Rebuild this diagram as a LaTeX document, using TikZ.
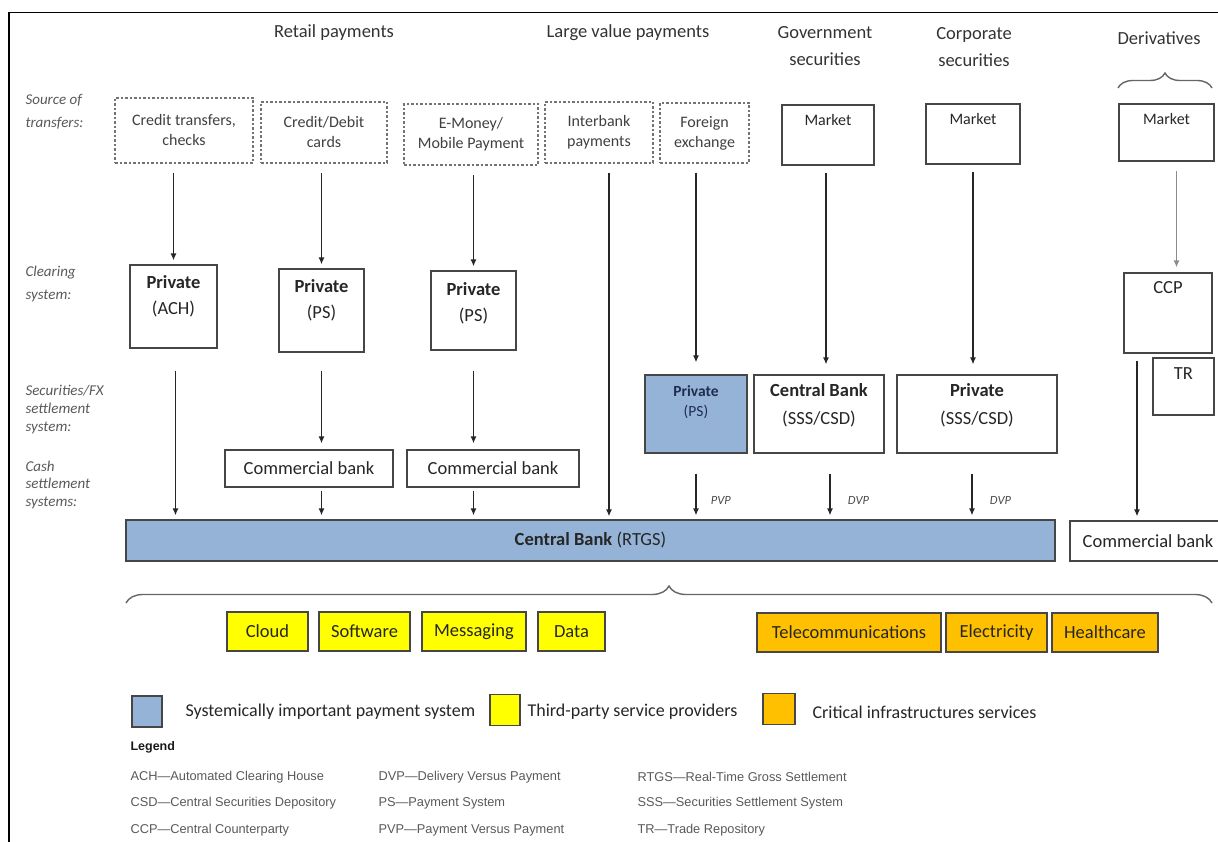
\documentclass[tikz,border=0pt]{standalone}
\usepackage{fontspec}
\setmainfont{Carlito}
\newfontfamily\arialfont{Liberation Sans}
\usepackage{xcolor}
\usepackage{tikz}
\usetikzlibrary{calc}
\usetikzlibrary{arrows.meta}
\usetikzlibrary{decorations.pathreplacing}
\definecolor{sipblue}{RGB}{149,179,215}
\definecolor{tpyellow}{RGB}{255,255,0}
\definecolor{ciorange}{RGB}{255,192,0}
\definecolor{boxgray}{RGB}{70,70,70}
\definecolor{navytext}{RGB}{31,45,80}

\begin{document}
\begin{tikzpicture}[x=1pt,y=-1pt,
	box/.style={draw=boxgray,line width=1.2pt,inner sep=0pt,align=center,text=black!85,font=\fontsize{18.5}{26}\selectfont},
	srcbox/.style={draw=black!55,dash pattern=on 2.5pt off 2pt,line width=1.1pt,inner sep=0pt,align=center,text=black!75,font=\fontsize{16}{20}\selectfont},
	intop/.style={anchor=north,align=center,yshift=-8pt,text=black!85,font=\fontsize{18.5}{26}\selectfont},
	head/.style={align=center,text=black!80,font=\fontsize{18.5}{27}\selectfont},
	rowlab/.style={anchor=west,align=left,text=black!65,font=\itshape\fontsize{15}{23}\selectfont},
	arr/.style={-{Latex[length=7pt,width=6pt]},line width=1.3pt,black!85},
	flowtag/.style={text=black!70,font=\itshape\fontsize{12.5}{14}\selectfont},
	tpbox/.style={box,fill=tpyellow,minimum height=39pt},
	cibox/.style={box,fill=ciorange,minimum height=39pt},
	swatch/.style={draw=boxgray,line width=1.2pt,minimum width=30pt,minimum height=31pt,inner sep=0pt},
	keytext/.style={anchor=west,text=black!85,font=\fontsize{18}{20}\selectfont},
	abbr/.style={anchor=west,text=black!65,font=\arialfont\fontsize{12.8}{14}\selectfont}]
	\useasboundingbox (0,0) rectangle (1218,842);
	\draw[line width=1.6pt] (9,842) -- (9,12.5) -- (1218,12.5);
	\node[head] (retail) at (334,33) {Retail payments};
	\node[head] (large) at (628,33) {Large value payments};
	\node[head] (govhd) at (825,46.5) {Government\\securities};
	\node[head] (corphd) at (974,47.5) {Corporate\\securities};
	\node[head] (derivhd) at (1159,38) {Derivatives};
	\node[rowlab] (srclab) at (22,111.5) {Source of\\transfers:};
	\node[rowlab] (clrlab) at (22,284) {Clearing\\system:};
	\node[rowlab,font=\itshape\fontsize{15}{18}\selectfont] (seclab) at (22,410) {Securities/FX\\settlement\\system:};
	\node[rowlab,font=\itshape\fontsize{15}{17.5}\selectfont] (cashlab) at (22,484.5) {Cash\\settlement\\systems:};
	\node[srcbox,minimum width=138pt,minimum height=65pt] (ct) at (184,130.5) {Credit transfers,\\checks};
	\node[srcbox,minimum width=126pt,minimum height=61pt] (cd) at (324,132.5) {Credit/Debit\\cards};
	\node[srcbox,minimum width=134pt,minimum height=61pt] (em) at (471,134.5) {E-Money/\\Mobile Payment};
	\node[srcbox,minimum width=108pt,minimum height=61pt] (ib) at (599,132.5) {Interbank\\payments};
	\node[srcbox,minimum width=89pt,minimum height=60pt] (fx) at (704.5,133) {Foreign\\exchange};
	\node[box,minimum width=92pt,minimum height=60pt,label={[intop,yshift=1.5pt,font=\fontsize{16}{20}\selectfont]north:Market}] (gm) at (828,135) {};
	\node[box,minimum width=94pt,minimum height=60pt,label={[intop,yshift=1.5pt,font=\fontsize{16}{20}\selectfont]north:Market}] (cm) at (973,134) {};
	\node[box,minimum width=95pt,minimum height=57pt,label={[intop,yshift=1.5pt,font=\fontsize{16}{20}\selectfont]north:Market}] (dm) at (1166.5,132.5) {};
	\node[box,minimum width=87pt,minimum height=83pt,label={[intop]north:{\textbf{Private}\\(ACH)}}] (ach) at (173.5,306.5) {};
	\node[box,minimum width=85pt,minimum height=83pt,label={[intop]north:{\textbf{Private}\\(PS)}}] (ps1) at (321.5,310.5) {};
	\node[box,minimum width=85pt,minimum height=79pt,label={[intop,yshift=-1pt]north:{\textbf{Private}\\(PS)}}] (ps2) at (473.5,310.5) {};
	\node[box,minimum width=88pt,minimum height=80pt,label={[intop,yshift=2pt]north:CCP}] (ccp) at (1168,313) {};
	\node[box,minimum width=61pt,minimum height=57pt,label={[intop,yshift=1pt]north:TR}] (tr) at (1183.5,386.5) {};
	\node[box,fill=sipblue,minimum width=102pt,minimum height=78pt,label={[intop,text=navytext,font=\fontsize{15.5}{20}\selectfont]north:{\textbf{Private}\\(PS)}}] (fxps) at (696,414) {};
	\node[box,minimum width=130pt,minimum height=78pt,label={[intop,yshift=2pt,font=\fontsize{18.5}{28}\selectfont]north:{\textbf{Central Bank}\\(SSS/CSD)}}] (cbsss) at (819,414) {};
	\node[box,minimum width=160pt,minimum height=78pt,label={[intop,yshift=2pt,font=\fontsize{18.5}{28}\selectfont]north:{\textbf{Private}\\(SSS/CSD)}}] (pvsss) at (977,414) {};
	\node[box,minimum width=168pt,minimum height=37pt] (cb1) at (309,468.5) {Commercial bank};
	\node[box,minimum width=172pt,minimum height=37pt] (cb2) at (493,468.5) {Commercial bank};
	\node[box,fill=sipblue,minimum width=929pt,minimum height=41pt] (rtgs) at (590.5,540.5) {\textbf{Central Bank} (RTGS)};
	\node[box,minimum width=156pt,minimum height=40pt] (cbr) at (1148,541) {Commercial bank};
	\draw[arr,shorten <=9pt,shorten >=4pt] (ct.south -| ach.north) -- (ach.north);
	\draw[arr,shorten <=9pt,shorten >=4pt] (cd.south -| ps1.north) -- (ps1.north);
	\draw[arr,shorten <=9pt,shorten >=4pt] (em.south -| ps2.north) -- (ps2.north);
	\draw[arr,shorten <=9pt,shorten >=3pt] ([xshift=10pt]ib.south) -- ([xshift=10pt]ib.south |- rtgs.north);
	\draw[arr,shorten <=9pt,shorten >=12pt] (fx.south -| fxps.north) -- (fxps.north);
	\draw[arr,shorten <=7pt,shorten >=10pt] ([xshift=-2pt]gm.south) -- ([xshift=-2pt]gm.south |- cbsss.north);
	\draw[arr,shorten <=7pt,shorten >=10pt] (cm.south) -- (cm.south |- pvsss.north);
	\draw[arr,black!45,shorten <=9pt,shorten >=5pt] ([xshift=10pt]dm.south) -- ([xshift=10pt]dm.south |- ccp.north);
	\draw[arr,shorten <=22pt,shorten >=4pt] ([xshift=2pt]ach.south) -- ([xshift=2pt]ach.south |- rtgs.north);
	\draw[arr,shorten <=18pt,shorten >=6pt] (ps1.south) -- (ps1.south |- cb1.north);
	\draw[arr,shorten <=20pt,shorten >=6pt] (ps2.south) -- (ps2.south |- cb2.north);
	\draw[arr,shorten <=3pt,shorten >=4pt] (cb1.south -| ps1.south) -- (ps1.south |- rtgs.north);
	\draw[arr,shorten <=3pt,shorten >=4pt] (cb2.south -| ps2.south) -- (ps2.south |- rtgs.north);
	\draw[arr,shorten <=20pt,shorten >=4pt] (fxps.south) -- (fxps.south |- rtgs.north) node[flowtag,pos=0.72,right=11pt] (pvp) {PVP};
	\draw[arr,shorten <=20pt,shorten >=4pt] ([xshift=11pt]cbsss.south) -- ([xshift=11pt]cbsss.south |- rtgs.north) node[flowtag,pos=0.72,right=14pt] (dvpgov) {DVP};
	\draw[arr,shorten <=20pt,shorten >=4pt] ([xshift=-5pt]pvsss.south) -- ([xshift=-5pt]pvsss.south |- rtgs.north) node[flowtag,pos=0.72,right=14pt] (dvpcorp) {DVP};
	\draw[arr,shorten <=7pt,shorten >=4pt] ([xshift=-31pt]ccp.south) -- ([xshift=-31pt]ccp.south |- cbr.north);
	\draw[black!60,line width=1.4pt,decorate,decoration={brace,amplitude=15pt}] (1118,88) -- (1212,88);
	\draw[black!60,line width=1.4pt,decorate,decoration={brace,amplitude=17pt}] (126,603) -- (1212,603);
	\node[tpbox,minimum width=81pt] (cloud) at (267.5,631.5) {Cloud};
	\node[tpbox,minimum width=91pt] (software) at (364.5,631.5) {Software};
	\node[tpbox,minimum width=104pt] (messaging) at (474,631.5) {Messaging};
	\node[tpbox,minimum width=67pt] (data) at (571.5,631.5) {Data};
	\node[cibox,minimum width=184pt] (telecom) at (849,632.5) {Telecommunications};
	\node[cibox,minimum width=101pt] (electricity) at (996.5,632.5) {Electricity};
	\node[cibox,minimum width=106pt] (healthcare) at (1105,632.5) {Healthcare};
	\node[swatch,fill=sipblue] (keyblue) at (147,711.5) {};
	\node[keytext] (keybluetxt) at (182,712) {Systemically important payment system};
	\node[swatch,fill=tpyellow] (keyyellow) at (505,710) {};
	\node[keytext] (keyyellowtxt) at (524,712) {Third-party service providers};
	\node[swatch,fill=ciorange,minimum width=32pt] (keyorange) at (779,709) {};
	\node[keytext] (keyorangetxt) at (809,712) {Critical infrastructures services};
	\node[abbr,text=black!90,font=\arialfont\bfseries\fontsize{12.5}{14}\selectfont] (legend) at (127,747) {Legend};
	\node[abbr] (achdef) at (127,777) {ACH—Automated Clearing House};
	\node[abbr] (csddef) at (127,803) {CSD—Central Securities Depository};
	\node[abbr] (ccpdef) at (127,830) {CCP—Central Counterparty};
	\node[abbr] (dvpdef) at (375,777) {DVP—Delivery Versus Payment};
	\node[abbr] (psdef) at (375,803) {PS—Payment System};
	\node[abbr] (pvpdef) at (375,830) {PVP—Payment Versus Payment};
	\node[abbr] (rtgsdef) at (634,777) {RTGS—Real-Time Gross Settlement};
	\node[abbr] (sssdef) at (634,803) {SSS—Securities Settlement System};
	\node[abbr] (trdef) at (634,830) {TR—Trade Repository};
\end{tikzpicture}
\end{document}
